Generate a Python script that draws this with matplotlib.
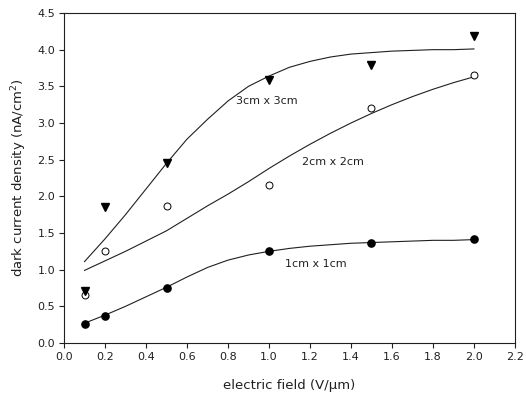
import numpy as np
import matplotlib.pyplot as plt

plt.rcParams.update({'font.family': "sans-serif",
                     'font.sans-serif': ["DejaVu Sans"],
                     'font.size': 8})

# Measured points
field = [0.1, 0.2, 0.5, 1.0, 1.5, 2.0]
j_1cm = [0.26, 0.37, 0.75, 1.25, 1.36, 1.42]
j_2cm = [0.65, 1.25, 1.87, 2.15, 3.20, 3.65]
j_3cm = [0.71, 1.85, 2.45, 3.59, 3.79, 4.19]

# Fitted curves
fit_x = [0.1, 0.2, 0.3, 0.4, 0.5, 0.6, 0.7, 0.8, 0.9, 1.0,
         1.1, 1.2, 1.3, 1.4, 1.5, 1.6, 1.7, 1.8, 1.9, 2.0]
fit_1cm = [0.27, 0.38, 0.50, 0.63, 0.76, 0.90, 1.03, 1.13, 1.20, 1.25,
           1.29, 1.32, 1.34, 1.36, 1.37, 1.38, 1.39, 1.40, 1.40, 1.41]
fit_2cm = [0.99, 1.12, 1.25, 1.39, 1.53, 1.70, 1.87, 2.03, 2.20, 2.38,
           2.55, 2.71, 2.86, 3.00, 3.13, 3.25, 3.36, 3.46, 3.55, 3.63]
fit_3cm = [1.11, 1.42, 1.75, 2.10, 2.45, 2.78, 3.05, 3.30, 3.50, 3.64,
           3.76, 3.84, 3.90, 3.94, 3.96, 3.98, 3.99, 4.00, 4.00, 4.01]

curve_labels = ["1cm x 1cm", "2cm x 2cm", "3cm x 3cm"]
label_pos = [(1.23, 1.08), (1.31, 2.47), (0.99, 3.30)]

fig = plt.figure(figsize=(5.26, 4.0), dpi=100)
ax = fig.add_axes([0.1217, 0.1425, 0.8573, 0.825])

ax.plot(fit_x, fit_1cm, color="#202020", linewidth=0.8)
ax.plot(fit_x, fit_2cm, color="#202020", linewidth=0.8)
ax.plot(fit_x, fit_3cm, color="#202020", linewidth=0.8)

ax.plot(field, j_1cm, linestyle="none", marker="o", markersize=5.2,
        color="black")
ax.plot(field, j_2cm, linestyle="none", marker="o", markersize=5,
        markerfacecolor="white", markeredgecolor="black", markeredgewidth=0.7)
ax.plot(field, j_3cm, linestyle="none", marker="v", markersize=6,
        color="black")

for text, (tx, ty) in zip(curve_labels, label_pos):
    ax.text(tx, ty, text, ha="center", va="center", fontsize=8,
            color="#202020")

ax.set_xlim(0.0, 2.2)
ax.set_ylim(0.0, 4.5)
ax.set_xticks(np.arange(0, 2.21, 0.2))
ax.set_yticks(np.arange(0, 4.51, 0.5))
ax.xaxis.set_major_formatter(plt.FormatStrFormatter("%.1f"))
ax.yaxis.set_major_formatter(plt.FormatStrFormatter("%.1f"))
ax.tick_params(direction="out", length=3.5, width=0.8, colors="#202020",
               labelsize=8, pad=3)

for spine in ax.spines.values():
    spine.set_linewidth(0.8)
    spine.set_color("#202020")

ax.set_xlabel("electric field (V/\u03bcm)", fontsize=9.5, labelpad=12,
              color="#202020")
ax.set_ylabel("dark current density (nA/cm$^2$)", fontsize=9.5, labelpad=6,
              color="#202020")

fig.savefig("out.png", dpi=100)
